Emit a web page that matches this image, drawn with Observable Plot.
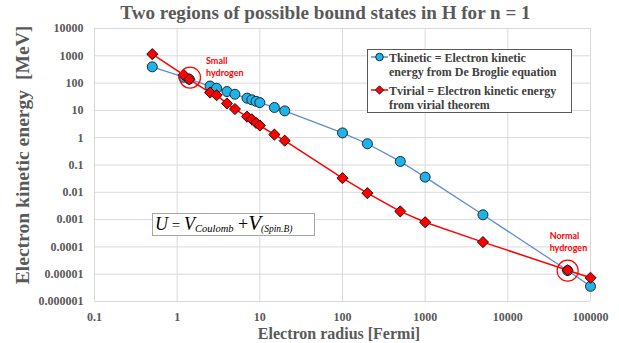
<!DOCTYPE html>
<html>
<head>
<meta charset="utf-8">
<script src="https://cdn.jsdelivr.net/npm/d3@7"></script>
<script src="https://cdn.jsdelivr.net/npm/@observablehq/plot@0.6"></script>
<style>
  html, body { margin: 0; padding: 0; background: #fff; }
  #chart svg { display: block; }
</style>
</head>
<body>
<div id="chart"></div>
<script>
// Electron radius in fermi (shared by both series)
const radius = [0.5, 1.2, 1.4, 2.5, 3, 4, 5, 7, 8, 9, 10, 15, 20, 100, 200, 500, 1000, 5000, 52900, 100000];
// Kinetic energy from the De Broglie relation [MeV]
const tKinetic = [394, 164, 140, 78, 65, 49, 39, 28, 24.5, 21.5, 19.3, 12.8, 9.6, 1.5, 0.6, 0.135, 0.036, 0.0015, 0.0000136, 0.0000036];
// Kinetic energy from the virial theorem [MeV]
const tVirial = [1150, 200, 138, 45, 36, 18, 11.2, 5.9, 4.7, 3.5, 2.8, 1.3, 0.78, 0.033, 0.0093, 0.002, 0.0008, 0.00015, 0.000014, 0.0000074];

// Axis ticks and their labels
const xTicks = [0.1, 1, 10, 100, 1000, 10000, 100000];
const xTickLabels = ["0.1", "1", "10", "100", "1000", "10000", "100000"];
const yTicks = [0.000001, 0.00001, 0.0001, 0.001, 0.01, 0.1, 1, 10, 100, 1000, 10000];
const yTickLabels = ["0.000001", "0.00001", "0.0001", "0.001", "0.01", "0.1", "1", "10", "100", "1000", "10000"];

// Highlighted bound states
const stateLabels = ["Small\nhydrogen", "Normal\nhydrogen"];
const stateRadius = [1.43, 52900];
const stateEnergy = [160, 0.0000135];

const titleText = "Two regions of possible bound states in H for n = 1";
const xLabel = "Electron radius [Fermi]";
const yLabel = "Electron kinetic energy  [MeV]";
const legendLines = [
  ["Tkinetic = Electron kinetic", "energy from De Broglie equation"],
  ["Tvirial = Electron kinetic energy", "from virial theorem"]
];

const blue = radius.map((r, i) => ({r, t: tKinetic[i]}));
const red = radius.map((r, i) => ({r, t: tVirial[i]}));
const states = stateLabels.map((label, i) => ({label, r: stateRadius[i], t: stateEnergy[i]}));

const serif = "'Liberation Serif', 'Times New Roman', serif";
const gray = "#595959";
const stateText = {x: "r", y: "t", text: "label", textAnchor: "start", lineAnchor: "top",
  fill: "#ff0000", fontFamily: "Lato, sans-serif", fontWeight: "bold", fontSize: 9, lineHeight: 1.35};

const chart = Plot.plot({
  width: 619,
  height: 343,
  marginLeft: 94,
  marginRight: 29,
  marginTop: 28,
  marginBottom: 42,
  style: {fontFamily: serif, fontWeight: "bold", fontSize: "12px", color: gray, background: "#fff"},
  x: {type: "log", domain: [0.1, 100000]},
  y: {type: "log", domain: [0.000001, 10000]},
  marks: [
    Plot.gridX(xTicks, {stroke: "#d9d9d9", strokeOpacity: 1, strokeWidth: 1}),
    Plot.gridY(yTicks, {stroke: "#d9d9d9", strokeOpacity: 1, strokeWidth: 1}),
    Plot.axisX({ticks: xTicks, tickFormat: (d) => xTickLabels[xTicks.indexOf(d)], tickSize: 0, tickPadding: 11, label: null, fontSize: 12}),
    Plot.axisY({ticks: yTicks, tickFormat: (d) => yTickLabels[yTicks.indexOf(d)], tickSize: 0, tickPadding: 11, label: null, fontSize: 12}),
    Plot.line(blue, {x: "r", y: "t", stroke: "#5b8dd3", strokeWidth: 1.3}),
    Plot.dot(blue, {x: "r", y: "t", r: 5, fill: "#1fb4e8", stroke: "#1c2a38", strokeWidth: 1}),
    Plot.line(red, {x: "r", y: "t", stroke: "#ff0000", strokeWidth: 1.5}),
    Plot.dot(red, {x: "r", y: "t", symbol: "diamond2", r: 5, fill: "#ff0000", stroke: "#2a0808", strokeWidth: 1}),
    Plot.dot(states, {x: "r", y: "t", r: 10.5, fill: "none", stroke: "#ff0000", strokeWidth: 1.2}),
    Plot.text(states.slice(0, 1), {...stateText, dx: 16, dy: -22}),
    Plot.text(states.slice(1), {...stateText, dx: -18, dy: -40})
  ]
});

document.getElementById("chart").appendChild(chart);
const svg = d3.select(chart);

// Title and axis titles
const titles = svg.append("g").attr("font-family", serif).attr("font-weight", "bold").attr("fill", gray).attr("text-anchor", "middle");
titles.append("text").attr("x", 325.5).attr("y", 18.5).attr("font-size", 19.1).text(titleText);
titles.append("text").attr("x", 339).attr("y", 338.5).attr("font-size", 16).text(xLabel);
titles.append("text").attr("transform", "translate(28.5,155) rotate(-90)").attr("font-size", 19.6).text(yLabel);

// Legend box
const legend = svg.append("g").attr("font-family", serif).attr("font-weight", "bold").attr("font-size", 12)
  .attr("fill", "#404040").attr("text-anchor", "start");
legend.append("rect").attr("x", 367.5).attr("y", 49.5).attr("width", 204).attr("height", 63)
  .attr("fill", "#fff").attr("stroke", "#595959").attr("stroke-width", 1);
const legendRows = [
  {y: 57, lines: legendLines[0], color: "#5b8dd3", fill: "#1fb4e8", shape: "circle"},
  {y: 90, lines: legendLines[1], color: "#ff0000", fill: "#ff0000", shape: "diamond"}
];
legendRows.forEach((row) => {
  legend.append("line").attr("x1", 371).attr("x2", 388).attr("y1", row.y).attr("y2", row.y)
    .attr("stroke", row.color).attr("stroke-width", 1.5);
  const sym = row.shape === "circle" ? d3.symbolCircle : d3.symbolDiamond2;
  legend.append("path").attr("d", d3.symbol(sym, 45)())
    .attr("transform", `translate(379.5,${row.y})`).attr("fill", row.fill).attr("stroke", "#1c2a38").attr("stroke-width", 1);
  row.lines.forEach((line, j) => {
    legend.append("text").attr("x", 389).attr("y", row.y + 4.5 + j * 14.5).text(line);
  });
});

// Potential formula box
const eq = svg.append("g").attr("font-family", serif).attr("font-style", "italic").attr("font-weight", "normal")
  .attr("fill", "#000").attr("text-anchor", "start");
eq.append("rect").attr("x", 152.5).attr("y", 213.5).attr("width", 162).attr("height", 22)
  .attr("fill", "#fff").attr("stroke", "#a6a6a6").attr("stroke-width", 1);
const t = eq.append("text").attr("x", 155).attr("y", 229.5);
t.append("tspan").attr("font-size", 18).text("U");
t.append("tspan").attr("font-size", 15).attr("font-style", "normal").text(" = ");
t.append("tspan").attr("font-size", 18).text("V");
t.append("tspan").attr("font-size", 10.5).attr("dy", 2).text("Coulomb");
t.append("tspan").attr("font-size", 18).attr("font-style", "normal").attr("dy", -2).text(" +");
t.append("tspan").attr("font-size", 21).text("V");
t.append("tspan").attr("font-size", 9.5).attr("dy", 2.5).text("(Spin.B)");
</script>
</body>
</html>
